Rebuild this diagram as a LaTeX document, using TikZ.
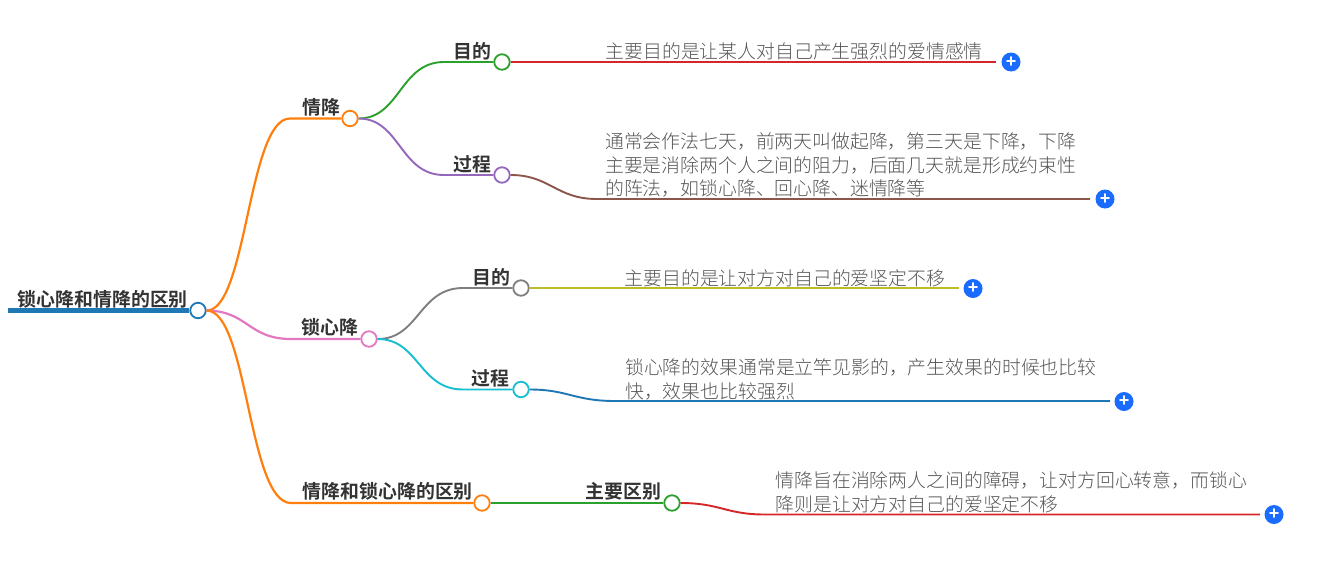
\documentclass[tikz,border=0pt]{standalone}
\usepackage{fontspec}
\setmainfont{Noto Sans CJK SC}
\newfontfamily\cjkbold{Noto Sans CJK SC Bold}
\newfontfamily\cjklight{Noto Sans CJK SC Light}
\newfontfamily\plusfont{Liberation Sans Bold}
\definecolor{cRoot}{HTML}{1F77B4}
\definecolor{cOrange}{HTML}{FF7F0E}
\definecolor{cGreen}{HTML}{2CA02C}
\definecolor{cRed}{HTML}{D62728}
\definecolor{cPurple}{HTML}{9467BD}
\definecolor{cBrown}{HTML}{8C564B}
\definecolor{cPink}{HTML}{E377C2}
\definecolor{cGray}{HTML}{7F7F7F}
\definecolor{cOlive}{HTML}{BCBD22}
\definecolor{cCyan}{HTML}{17BECF}
\definecolor{cPlus}{HTML}{1A6CFF}
\definecolor{cHead}{HTML}{333333}
\definecolor{cBody}{HTML}{555555}
\tikzset{
  dot/.style={circle,draw=#1,fill=white,line width=1.8pt,minimum size=15.5pt,inner sep=0pt},
  link/.style={draw=#1,line width=2.2pt},
  sublink/.style={draw=#1,line width=1.9pt},
  plusbtn/.style={circle,fill=cPlus,text=white,minimum size=19pt,inner sep=0pt,font=\plusfont\fontsize{18}{18}\selectfont},
  head/.style={anchor=base west,inner sep=0pt,text=cHead,font=\cjkbold\fontsize{18.9}{18.9}\selectfont},
  body/.style={anchor=south west,inner sep=0pt,text=cBody,align=left,font=\cjklight\fontsize{18.85}{23.5}\selectfont},
}
\begin{document}
\begin{tikzpicture}[x=1pt,y=-1pt]
\useasboundingbox (0,0) rectangle (1332,576);
% dots
\node[dot=cRoot] (root) at (198,310.5) {};
\node[dot=cOrange] (qj) at (350,118.5) {};
\node[dot=cGreen] (qjmd) at (502,62) {};
\node[dot=cPurple] (qjgc) at (502,175) {};
\node[dot=cPink] (sxj) at (369,339) {};
\node[dot=cGray] (sxmd) at (521,288) {};
\node[dot=cCyan] (sxgc) at (521,389.5) {};
\node[dot=cOrange] (qb) at (482,503) {};
\node[dot=cGreen] (zy) at (672,503) {};
% plus buttons
\node[plusbtn] (p1) at (1011,62) {+};
\node[plusbtn] (p2) at (1105,199) {+};
\node[plusbtn] (p3) at (973,288.5) {+};
\node[plusbtn] (p4) at (1124,401.5) {+};
\node[plusbtn] (p5) at (1274,514.5) {+};
% free ends
\coordinate (rs) at (8,310.5);
\coordinate (e1) at (996,62);
\coordinate (e2) at (1090,199);
\coordinate (e3) at (959,288);
\coordinate (e4) at (1110,401);
\coordinate (e5) at (1260,514.5);
\coordinate (k1) at (290,118.5);
\coordinate (k2) at (291,339);
\coordinate (k3) at (291,503);
\coordinate (k4) at (444,62);
\coordinate (k5) at (444,175);
\coordinate (k6) at (463,288);
\coordinate (k7) at (463,389.5);
\coordinate (k8) at (597,199);
\coordinate (k9) at (615,401);
\coordinate (k10) at (765,514.5);
% connectors
\draw[draw=cRoot,line width=4.6pt] (rs) -- (root.west);
\draw[link=cOrange] (root.east) .. controls (247,310.5) and (248,118.5) .. (k1) -- (qj.west);
\draw[link=cPink] (root.east) .. controls (248,311) and (248,339) .. (k2) -- (sxj.west);
\draw[link=cOrange] (root.east) .. controls (248,311) and (248,503) .. (k3) -- (qb.west);
\draw[sublink=cGreen] (qj.east) .. controls (400,118.5) and (400,62) .. (k4) -- (qjmd.west);
\draw[sublink=cPurple] (qj.east) .. controls (400,118.5) and (400,175) .. (k5) -- (qjgc.west);
\draw[sublink=cRed] (qjmd.east) -- (e1);
\draw[sublink=cBrown] (qjgc.east) .. controls (550,175) and (556,199) .. (k8) -- (e2);
\draw[sublink=cGray] (sxj.east) .. controls (419,339) and (419,288) .. (k6) -- (sxmd.west);
\draw[sublink=cCyan] (sxj.east) .. controls (419,339) and (419,389.5) .. (k7) -- (sxgc.west);
\draw[sublink=cOlive] (sxmd.east) -- (e3);
\draw[sublink=cRoot] (sxgc.east) .. controls (568,389.5) and (574,401) .. (k9) -- (e4);
\draw[sublink=cGreen] (qb.east) -- (zy.west);
\draw[sublink=cRed] (zy.east) .. controls (720,503) and (726,514.5) .. (k10) -- (e5);
% labels
\node[head] (t0) at (17.5,306.5) {锁心降和情降的区别};
\node[head] (t1) at (302.5,114.5) {情降};
\node[head] (t2) at (453.5,58.5) {目的};
\node[head] (t3) at (453.5,171.5) {过程};
\node[head] (t4) at (301.5,334.5) {锁心降};
\node[head] (t5) at (472.5,284.5) {目的};
\node[head] (t6) at (471.5,385.5) {过程};
\node[head] (t7) at (302.5,498.5) {情降和锁心降的区别};
\node[head] (t8) at (585.5,498.5) {主要区别};
% body
\node[body] (b1) at (605.5,60.5) {主要目的是让某人对自己产生强烈的爱情感情};
\node[body] (b2) at (605,197.5) {通常会作法七天，前两天叫做起降，第三天是下降，下降\\主要是消除两个人之间的阻力，后面几天就是形成约束性\\的阵法，如锁心降、回心降、迷情降等};
\node[body] (b3) at (624.5,287) {主要目的是让对方对自己的爱坚定不移};
\node[body] (b4) at (625,400) {锁心降的效果通常是立竿见影的，产生效果的时候也比较\\快，效果也比较强烈};
\node[body] (b5) at (775.5,513) {情降旨在消除两人之间的障碍，让对方回心转意，而锁心\\降则是让对方对自己的爱坚定不移};
\end{tikzpicture}
\end{document}
